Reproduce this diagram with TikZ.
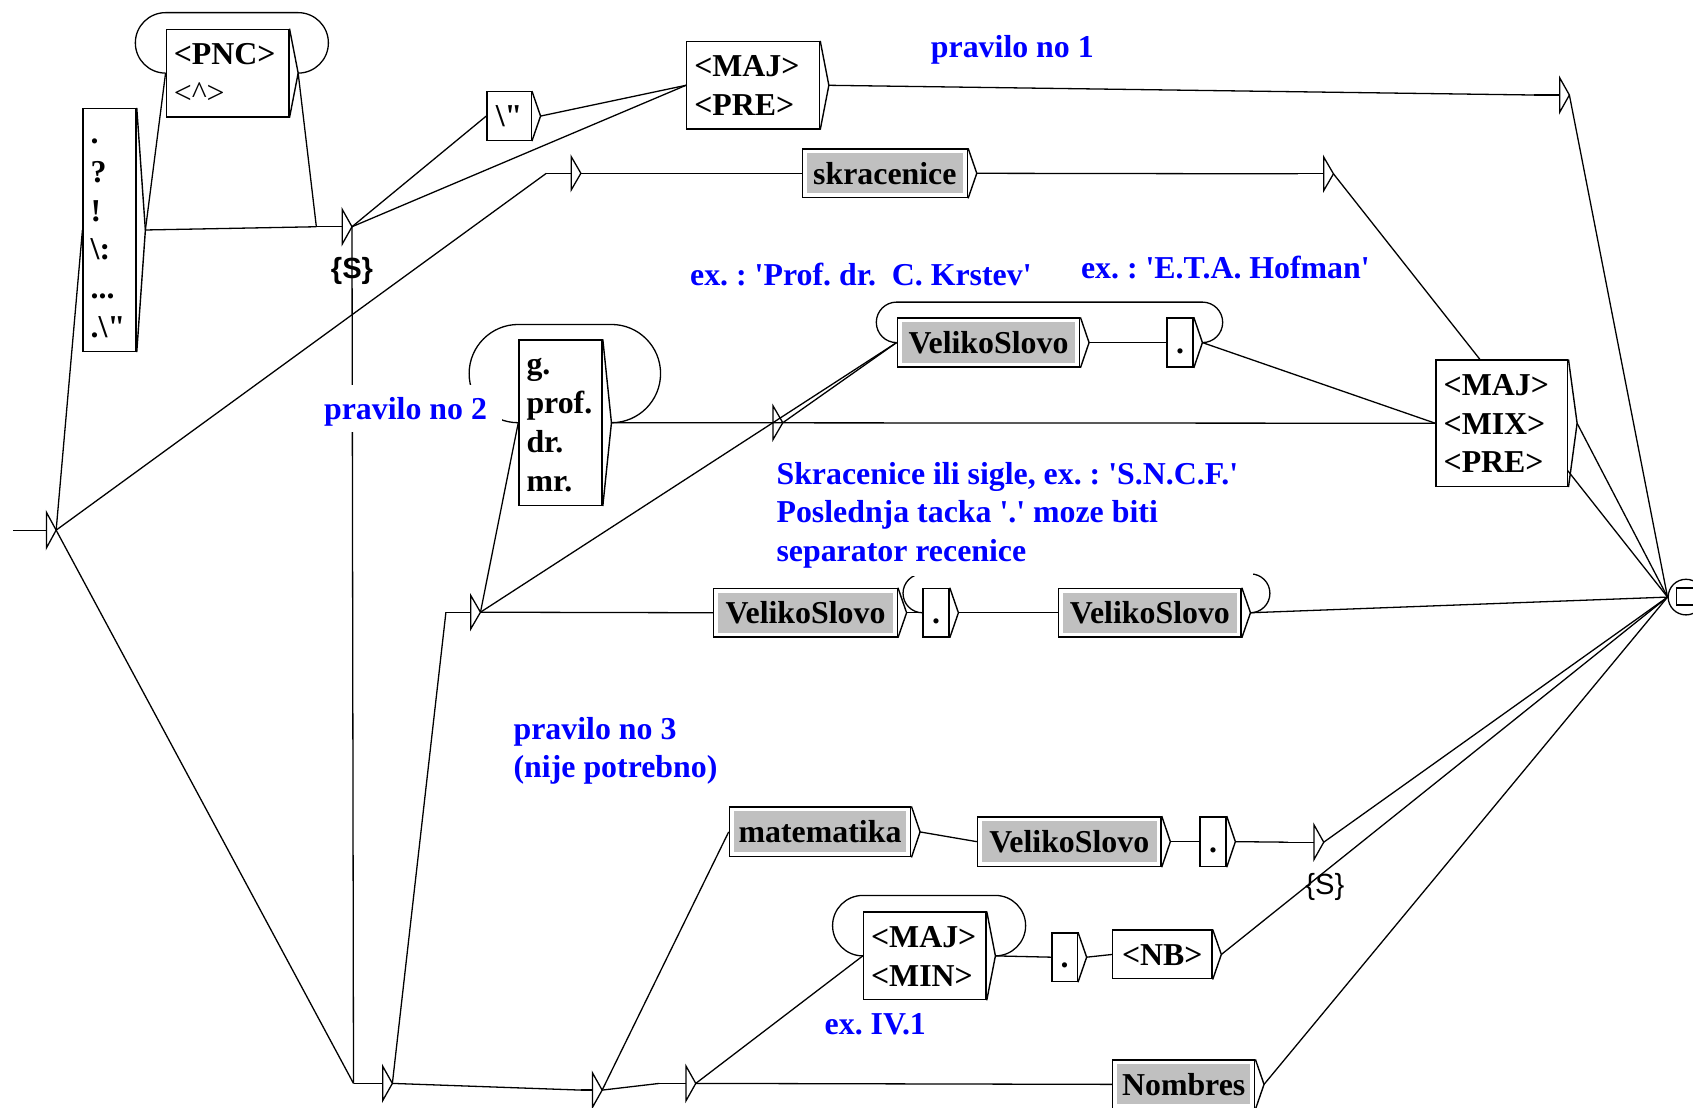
\documentclass[tikz,border=0pt]{standalone}
\usepackage{fontspec}
\setmainfont{Liberation Serif}
\setsansfont{Liberation Sans}
\usetikzlibrary{calc,backgrounds}
\definecolor{boxgray}{HTML}{C0C0C0}
\newcommand\bxfont{\fontsize{29.5}{36}\selectfont\bfseries\frenchspacing}
\newcommand\cmfont{\fontsize{29.5}{36}\selectfont\bfseries\frenchspacing\color{blue}}
\newcommand\sq{\textquotesingle}
\newcommand\dq{\textquotedbl}
\newcommand\fl{\rule{0pt}{20pt}}% first-line strut of a box

% right-hand output triangle of a box; its tip is named <box>-o
\newcommand\outtip[1]{%
  \draw[boxline] (#1.north east) -- ($(#1.east)+(8pt,0pt)$) coordinate (#1-o) -- (#1.south east);}
% empty transition arrow: name, x, y, stub length, half height
\newcommand\emptyarr[5]{%
  \coordinate (#1) at ({#2-#4},#3);
  \draw[graphline] (#1) -- (#2,#3);
  \draw[graphline, line join=miter] (#2,{#3-#5}) -- ({#2+9},#3) coordinate (#1-o) -- (#2,{#3+#5}) -- cycle;}

\tikzset{
  graphline/.style={line width=1.2pt},
  boxline/.style={line width=1.3pt},
  bx/.style={draw, fill=white, line width=1.3pt, inner sep=0pt, font=\bxfont, align=center},
  lbx/.style={bx, align=left, inner xsep=7pt, text width=#1},
  gbx/.style={bx, path picture={\fill[boxgray]
      ($(path picture bounding box.south west)+(4pt,4pt)$) rectangle
      ($(path picture bounding box.north east)+(-4pt,-4pt)$);}},
  cmt/.style={font=\cmfont, inner sep=0pt, anchor=base west},
  cmtbox/.style={font=\cmfont, fill=white, inner ysep=0pt, align=left, anchor=north west},
  outlbl/.style={font=\fontsize{27}{30}\selectfont\sffamily, inner sep=0pt},
}

\begin{document}
\begin{tikzpicture}[x=1pt,y=-1pt]
\useasboundingbox (0,0) rectangle (1568,1026);
\begin{pgfonlayer}{background}
  \fill[white] (0,0) rectangle (1568,1026);
\end{pgfonlayer}

% ---------- boxes ----------
\node[lbx=35pt, minimum height=225pt] (P) at (101.5,213)
  {\fl.\\?\\!\\\textbackslash:\\...\\.\textbackslash\dq};
\node[lbx=99.5pt, minimum height=81pt] (PNC) at (210.75,67.7)
  {\fl<PNC>\\{\mdseries<\textasciicircum>}};
\node[bx, minimum width=41pt, minimum height=45pt] (BQ) at (471.5,107.5) {\fl\textbackslash\dq};
\node[lbx=109pt, minimum height=81pt] (MP) at (697.5,79) {\fl<MAJ>\\<PRE>};
\node[gbx, minimum width=153pt, minimum height=45pt] (SK) at (819.5,160.5) {\fl skracenice};
\node[lbx=63pt, minimum height=153pt] (GP) at (519.15,391.5) {\fl g.\\prof.\\dr.\\mr.};
\node[gbx, minimum width=169pt, minimum height=45.5pt] (VS1) at (915.5,317.3) {\fl VelikoSlovo};
\node[bx, minimum width=24pt, minimum height=45.5pt] (D1) at (1093,317.3) {\fl.};
\node[lbx=108pt, minimum height=117pt] (MMP) at (1391,392) {\fl<MAJ>\\<MIX>\\<PRE>};
\node[gbx, minimum width=170pt, minimum height=45pt] (VS2) at (746,567.5) {\fl VelikoSlovo};
\node[bx, minimum width=24pt, minimum height=45pt] (D2) at (867,567.5) {\fl.};
\node[gbx, minimum width=169pt, minimum height=45pt] (VS3) at (1065,567.5) {\fl VelikoSlovo};
\node[gbx, minimum width=168pt, minimum height=46pt] (MAT) at (759.5,770.5) {\fl matematika};
\node[gbx, minimum width=170pt, minimum height=46pt] (VS4) at (990.3,779.5) {\fl VelikoSlovo};
\node[bx, minimum width=24pt, minimum height=46pt] (D3) at (1123.5,779.5) {\fl.};
\node[lbx=99.5pt, minimum height=81pt] (MM) at (856.5,885.3) {\fl<MAJ>\\<MIN>};
\node[bx, minimum width=23.5pt, minimum height=45pt] (D4) at (986,886.5) {\fl.};
\node[bx, minimum width=92pt, minimum height=45pt] (NB) at (1076.5,884) {\fl<NB>};
\node[gbx, minimum width=131.5pt, minimum height=45pt] (NOM) at (1096.3,1004.3) {\fl Nombres};

\foreach \b in {P,PNC,BQ,MP,SK,GP,VS1,D1,MMP,VS2,D2,VS3,MAT,VS4,D3,MM,D4,NB,NOM}
  {\outtip{\b}}

% ---------- empty transitions ----------
\emptyarr{st}{43}{491}{30.6}{16.5}
\emptyarr{S1}{317}{210}{24}{16}
\emptyarr{E1}{529}{160.5}{23}{15.5}
\emptyarr{TR}{1444.5}{88}{24}{16}
\emptyarr{SE}{1226}{161}{24}{15.5}
\emptyarr{E3}{716}{391.5}{24}{15.5}
\emptyarr{E4}{436}{567}{23}{15.5}
\emptyarr{E5}{1217}{780}{24}{16}
\emptyarr{B1}{354.4}{1003.4}{27}{16}
\emptyarr{B2}{548.7}{1009.6}{10.7}{16}
\emptyarr{B3}{635.4}{1003.4}{24.7}{16}

\node[outlbl, font=\fontsize{27}{30}\selectfont\sffamily\bfseries] (S1lbl) at (326,251) {\{S\}};
\node[outlbl] (E5lbl) at (1227,821) {\{S\}};

% ---------- final state ----------
\node[circle, draw, line width=1.2pt, fill=white, minimum size=33pt, inner sep=0pt] (end) at (1561.5,553) {};
\draw[line width=1.2pt] (1552.5,544.6) rectangle (1568.5,560.4);

% ---------- comments ----------
\node[cmt] (c1) at (862,53) {pravilo no 1};
\node[cmt] (c2) at (639,264) {ex. : \sq Prof. dr.\ \ C. Krstev\sq};
\node[cmt] (c3) at (1001,258) {ex. : \sq E.T.A. Hofman\sq};
\node[cmtbox, inner xsep=4pt, minimum height=43.2pt] (c4) at (296,356.6)
  {\makebox[161pt][l]{\rule{0pt}{26pt}pravilo no 2}};
\node[cmtbox, inner xsep=5pt, minimum height=112pt] (c5) at (714,421)
  {\makebox[436pt][l]{\rule{0pt}{19pt}Skracenice ili sigle, ex. : \sq S.N.C.F.\sq}\\
   Poslednja tacka \sq.\sq{} moze biti\\separator recenice};
\node[cmt] (c6) at (475.5,684.5) {pravilo no 3};
\node[cmt] (c7) at (475.5,720) {(nije potrebno)};
\node[cmt] (c8) at (763.6,958.5) {ex. IV.1};

% ---------- transitions ----------
\begin{pgfonlayer}{background}
\draw[graphline] (st-o) -- (P.west);
\draw[graphline] (st-o) -- (E1);
\draw[graphline] (st-o) -- (B1);
\draw[graphline] (P-o) -- (PNC.west);
\draw[graphline] (P-o) -- (S1);
\draw[graphline] (PNC-o) -- (S1);
\draw[graphline] (PNC.west) arc[start angle=90,end angle=270,radius=28]
  -- ($(PNC-o)+(0,-56)$) arc[start angle=270,end angle=450,radius=28];
\draw[graphline] (S1-o) -- (BQ.west);
\draw[graphline] (S1-o) -- (MP.west);
\draw[graphline] (BQ-o) -- (MP.west);
\draw[graphline] (S1-o) -- (B1);
\draw[graphline] (MP-o) -- (TR);
\draw[graphline] (TR-o) -- (end.west);
\draw[graphline] (E1-o) -- (SK.west);
\draw[graphline] (SK-o) -- (SE);
\draw[graphline] (SE-o) -- (end.west);
\draw[graphline] (GP.west) arc[start angle=90,end angle=270,radius=45.5]
  -- ($(GP-o)+(0,-91)$) arc[start angle=270,end angle=450,radius=45.5];
\draw[graphline] (E4-o) -- (GP.west);
\draw[graphline] (GP-o) -- (E3);
\draw[graphline] (GP-o) -- (MMP.west);
\draw[graphline] (E3-o) -- (VS1.west);
\draw[graphline] (E4-o) -- (VS1.west);
\draw[graphline] (VS1.west) arc[start angle=90,end angle=270,radius=18.75]
  -- ($(D1-o)+(0,-37.5)$) arc[start angle=270,end angle=450,radius=18.75];
\draw[graphline] (VS1-o) -- (D1.west);
\draw[graphline] (D1-o) -- (MMP.west);
\draw[graphline] (MMP-o) -- (end.west);
\draw[graphline] (B1-o) -- (E4);
\draw[graphline] (E4-o) -- (VS2.west);
\draw[graphline] (VS2-o) -- (D2.west);
\draw[graphline] (D2-o) -- (VS3.west);
\draw[graphline] (D2.west) arc[start angle=90,end angle=270,radius=18]
  -- ($(VS3-o)+(0,-36)$) arc[start angle=270,end angle=450,radius=18];
\draw[graphline] (VS3-o) -- (end.west);
\draw[graphline] (B1-o) -- (B2);
\draw[graphline] (B2-o) -- (B3);
\draw[graphline] (B2-o) -- (MAT.west);
\draw[graphline] (MAT-o) -- (VS4.west);
\draw[graphline] (VS4-o) -- (D3.west);
\draw[graphline] (D3-o) -- (E5);
\draw[graphline] (E5-o) -- (end.west);
\draw[graphline] (B3-o) -- (MM.west);
\draw[graphline] (MM.west) arc[start angle=90,end angle=270,radius=28]
  -- ($(MM-o)+(0,-56)$) arc[start angle=270,end angle=450,radius=28];
\draw[graphline] (MM-o) -- (D4.west);
\draw[graphline] (D4-o) -- (NB.west);
\draw[graphline] (NB-o) -- (end.west);
\draw[graphline] (B3-o) -- (NOM.west);
\draw[graphline] (NOM-o) -- (end.west);
\end{pgfonlayer}
\end{tikzpicture}
\end{document}
